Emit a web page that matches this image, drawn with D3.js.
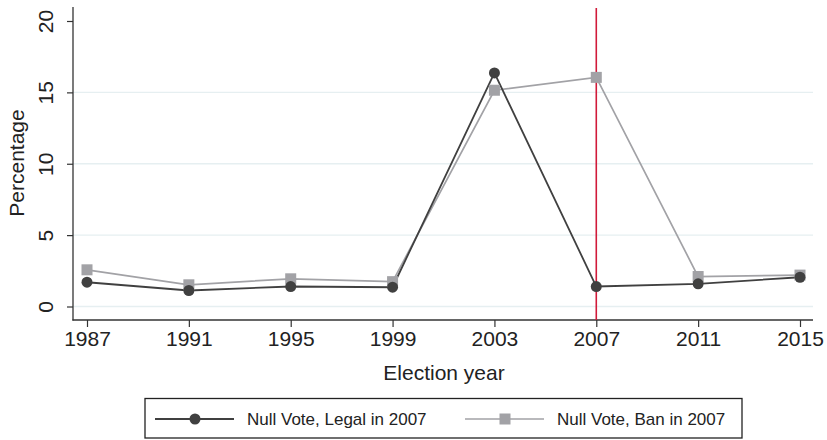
<!DOCTYPE html>
<html>
<head>
<meta charset="utf-8">
<script src="https://cdn.jsdelivr.net/npm/d3@7"></script>
<style>
  body { margin: 0; background: #fff; }
  svg text { font-family: "Liberation Sans", Arial, sans-serif; fill: #222; }
</style>
</head>
<body>
<svg id="chart" width="827" height="440"></svg>
<script>
// election years and null vote shares (%)
var years = [1987, 1991, 1995, 1999, 2003, 2007, 2011, 2015];
var legalVals = [1.70, 1.12, 1.40, 1.35, 16.36, 1.40, 1.59, 2.05];
var banVals = [2.57, 1.52, 1.94, 1.74, 15.15, 16.05, 2.10, 2.20];
var yTicks = [0, 5, 10, 15, 20];
var seriesNames = ["Null Vote, Legal in 2007", "Null Vote, Ban in 2007"];
var banYear = 2007;

var darkCol = "#404040",
    greyCol = "#a2a2a6",
    redCol = "#d11a3a";

var svg = d3.select("#chart");

var x = d3.scaleLinear().domain([1987, 2015]).range([87, 800]);
var y = d3.scaleLinear().domain([0, 20]).range([306.5, 21]);

// gridlines (no line at the top)
svg.selectAll(".grid")
    .data(yTicks.slice(0, -1))
    .enter().append("line")
    .attr("class", "grid")
    .attr("x1", 73).attr("x2", 813)
    .attr("y1", function(d){ return y(d); })
    .attr("y2", function(d){ return y(d); })
    .attr("stroke", "#e6eff1")
    .attr("stroke-width", 1.3);

// y axis
var yAxis = svg.append("g")
    .attr("transform", "translate(73,0)")
    .call(d3.axisLeft(y).tickValues(yTicks).tickSize(6).tickPadding(0));
yAxis.select(".domain").remove();
yAxis.selectAll(".tick line").attr("stroke", "#333").attr("stroke-width", 1.2);
yAxis.selectAll(".tick text")
    .attr("x", 0).attr("dy", 0)
    .attr("text-anchor", "middle")
    .attr("transform", "translate(-20,0) rotate(-90)")
    .style("font-size", "21px")
    .style("fill", "#222");

// x axis
var xAxis = svg.append("g")
    .attr("transform", "translate(0,320)")
    .call(d3.axisBottom(x).tickValues(years).tickFormat(d3.format("d")).tickSize(7).tickPadding(4));
xAxis.select(".domain").remove();
xAxis.selectAll(".tick line").attr("stroke", "#333").attr("stroke-width", 1.2);
xAxis.selectAll(".tick text")
    .style("font-size", "21px")
    .style("fill", "#222");

// axis lines
svg.append("line").attr("x1", 73).attr("x2", 73).attr("y1", 7).attr("y2", 320.6)
    .attr("stroke", "#333").attr("stroke-width", 1.3);
svg.append("line").attr("x1", 72.4).attr("x2", 813).attr("y1", 320).attr("y2", 320)
    .attr("stroke", "#333").attr("stroke-width", 1.3);

// axis titles
svg.append("text")
    .attr("transform", "translate(24,163) rotate(-90)")
    .attr("text-anchor", "middle")
    .style("font-size", "21px")
    .text("Percentage");
svg.append("text")
    .attr("x", 444).attr("y", 380)
    .attr("text-anchor", "middle")
    .style("font-size", "21px")
    .text("Election year");

// vertical reference line at 2007
svg.append("line")
    .attr("x1", x(banYear)).attr("x2", x(banYear))
    .attr("y1", 8).attr("y2", 320)
    .attr("stroke", redCol).attr("stroke-width", 1.6);

var line = d3.line()
    .x(function(d){ return x(d[0]); })
    .y(function(d){ return y(d[1]); });

var legalData = d3.zip(years, legalVals);
var banData = d3.zip(years, banVals);

svg.append("path").datum(banData)
    .attr("d", line).attr("fill", "none")
    .attr("stroke", greyCol).attr("stroke-width", 1.7);
svg.append("path").datum(legalData)
    .attr("d", line).attr("fill", "none")
    .attr("stroke", darkCol).attr("stroke-width", 1.8);

svg.selectAll(".ban")
    .data(banData)
    .enter().append("rect")
    .attr("class", "ban")
    .attr("x", function(d){ return x(d[0]) - 5.5; })
    .attr("y", function(d){ return y(d[1]) - 5.5; })
    .attr("width", 11).attr("height", 11)
    .attr("fill", greyCol);

svg.selectAll(".legal")
    .data(legalData)
    .enter().append("circle")
    .attr("class", "legal")
    .attr("cx", function(d){ return x(d[0]); })
    .attr("cy", function(d){ return y(d[1]); })
    .attr("r", 5.5)
    .attr("fill", darkCol);

// legend
var legend = svg.append("g");
legend.append("rect")
    .attr("x", 145).attr("y", 398.5)
    .attr("width", 597).attr("height", 39.5)
    .attr("fill", "none").attr("stroke", "#222").attr("stroke-width", 1.3);

legend.append("line").attr("x1", 155).attr("x2", 234).attr("y1", 419).attr("y2", 419)
    .attr("stroke", darkCol).attr("stroke-width", 1.8);
legend.append("circle").attr("cx", 195).attr("cy", 419).attr("r", 5.5).attr("fill", darkCol);
legend.append("text").attr("x", 247).attr("y", 425)
    .style("font-size", "17px").text(seriesNames[0]);

legend.append("line").attr("x1", 465).attr("x2", 544).attr("y1", 419).attr("y2", 419)
    .attr("stroke", greyCol).attr("stroke-width", 1.7);
legend.append("rect").attr("x", 499.5).attr("y", 413.5).attr("width", 11).attr("height", 11)
    .attr("fill", greyCol);
legend.append("text").attr("x", 557).attr("y", 425)
    .style("font-size", "17px").text(seriesNames[1]);
</script>
</body>
</html>
